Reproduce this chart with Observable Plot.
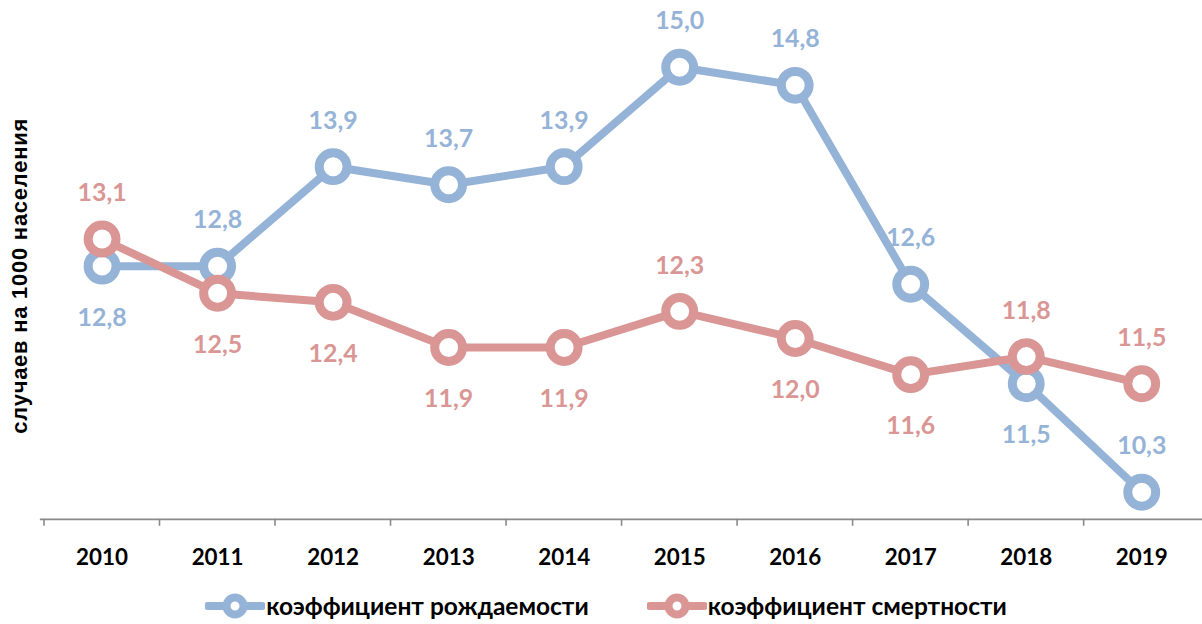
<!DOCTYPE html>
<html>
<head>
<meta charset="utf-8">
<script src="https://cdn.jsdelivr.net/npm/d3@7"></script>
<script src="https://cdn.jsdelivr.net/npm/@observablehq/plot@0.6"></script>
<style>
  html, body { margin: 0; padding: 0; background: #fff; overflow: hidden; width: 1202px; height: 624px; }
  #chart svg { display: block; }
  #legend { display: flex; justify-content: center; align-items: center; gap: 58px; height: 36px; padding-top: 10px;
            font-family: Lato, "Open Sans", sans-serif; font-weight: 700; font-size: 24.5px; color: #000; margin-left: 10px; }
  .item { display: flex; align-items: center; }
  .item svg { display: block; margin-right: 1px; }
</style>
</head>
<body>
<div id="chart"></div>
<div id="legend"></div>
<script>
const years = ["2010","2011","2012","2013","2014","2015","2016","2017","2018","2019"];
const birthRate = [12.8, 12.8, 13.9, 13.7, 13.9, 15.0, 14.8, 12.6, 11.5, 10.3];
const deathRate = [13.1, 12.5, 12.4, 11.9, 11.9, 12.3, 12.0, 11.6, 11.8, 11.5];
const birthLabelPos = ["below","above","above","above","above","above","above","above","below","above"];
const deathLabelPos = ["above","below","below","below","below","above","below","below","above","above"];
const seriesNames = ["коэффициент рождаемости", "коэффициент смертности"];
const yTitle = "случаев на 1000 населения";

const blue = "#95B3D7", red = "#D99694";
const fmt = v => v.toFixed(1).replace(".", ",");

const birth = years.map((y, i) => ({year: y, value: birthRate[i], pos: birthLabelPos[i]}));
const death = years.map((y, i) => ({year: y, value: deathRate[i], pos: deathLabelPos[i]}));

const W = 1207, H = 580, mL = 40, mR = 0, mT = 0, mB = 59;
const bw = (W - mL - mR) / years.length;
const labelFont = "Lato, 'Open Sans', sans-serif";

function seriesMarks(data, color) {
  return [
    Plot.line(data, {x: "year", y: "value", stroke: color, strokeWidth: 8, strokeLinejoin: "round"}),
    Plot.dot(data, {x: "year", y: "value", r: 14, fill: "white", stroke: color, strokeWidth: 9})
  ];
}
function labelMarks(data, color) {
  return [
    Plot.text(data, {filter: d => d.pos === "above", x: "year", y: "value", text: d => fmt(d.value),
      dy: -46, fill: color, fontSize: 25, fontWeight: 700, fontFamily: labelFont}),
    Plot.text(data, {filter: d => d.pos === "below", x: "year", y: "value", text: d => fmt(d.value),
      dy: 52, fill: color, fontSize: 25, fontWeight: 700, fontFamily: labelFont})
  ];
}

const chart = Plot.plot({
  width: W, height: H,
  marginLeft: mL, marginRight: mR, marginTop: mT, marginBottom: mB,
  x: {type: "point", domain: years, padding: 0.5, label: null, axis: null},
  y: {domain: [10, 15.738], label: null, axis: null},
  style: {background: "white", overflow: "visible"},
  marks: [
    Plot.ruleY([10], {stroke: "#898989", strokeWidth: 1.6}),
    Plot.ruleX(years, {x: d => d, y1: 10, y2: 10, insetBottom: -7, dx: -bw / 2, stroke: "#898989", strokeWidth: 1.6}),
    Plot.axisX({tickSize: 0, tickPadding: 30, fontSize: 22.5, fontWeight: 700, fontFamily: labelFont, fill: "#000", label: null}),
    Plot.text([yTitle], {frameAnchor: "left", textAnchor: "middle", rotate: -90, dx: -20, dy: 16, fontSize: 22, fontWeight: 700,
      fontFamily: "'Liberation Sans', Arial, sans-serif", fill: "#000"}),
    ...seriesMarks(birth, blue),
    ...seriesMarks(death, red),
    ...labelMarks(birth, blue),
    ...labelMarks(death, red)
  ]
});
chart.querySelectorAll("text").forEach(t => {
  if (t.textContent === yTitle) t.setAttribute("letter-spacing", "0.8");
});
document.getElementById("chart").appendChild(chart);

const legend = document.getElementById("legend");
[[seriesNames[0], blue], [seriesNames[1], red]].forEach(([name, color]) => {
  const item = document.createElement("div");
  item.className = "item";
  item.innerHTML = `<svg width="60" height="30"><line x1="3" y1="15" x2="57" y2="15" stroke="${color}" stroke-width="8" stroke-linecap="round"/>` +
    `<circle cx="30" cy="15" r="8.5" fill="white" stroke="${color}" stroke-width="8"/></svg><span>${name}</span>`;
  legend.appendChild(item);
});
</script>
</body>
</html>
